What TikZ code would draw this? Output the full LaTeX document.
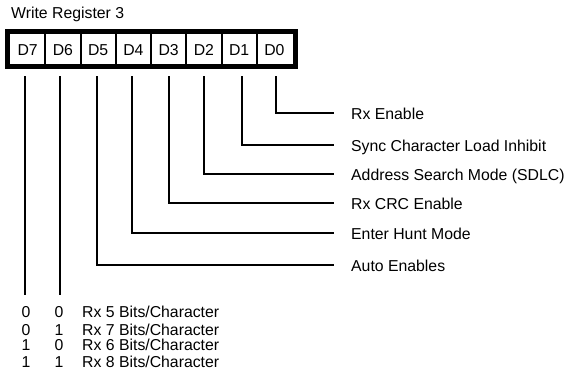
\documentclass[tikz,border=0pt]{standalone}
\usepackage{fontspec}
\setmainfont{Liberation Sans}
\begin{document}
\begin{tikzpicture}[x=1pt,y=-1pt,
  txt/.style={inner sep=0pt,font=\fontsize{15.8}{18}\selectfont},
  cell/.style={txt,anchor=center},
  lbl/.style={txt,anchor=base west},
  wire/.style={line width=2pt,line cap=rect},
  frame/.style={line width=5pt},
  divider/.style={line width=2pt}]
\useasboundingbox (0,0) rectangle (568,374);
% title
\node[txt,anchor=base west] (title) at (11,19) {Write Register 3};
% register box
\draw[frame] (7.5,31.5) rectangle (295.5,66.5);
\foreach \i/\x in {1/45.25,2/80.5,3/115.75,4/151,5/186.25,6/221.5,7/256.75}
  \draw[divider] (\x,34) -- (\x,64);
\foreach \n/\x in {7/27.6,6/62.9,5/98.1,4/133.4,3/168.6,2/203.9,1/239.1,0/274.4}
  \node[cell] (c\n) at (\x,50) {D\n};
% wire tops
\coordinate (t7) at (25,77);
\coordinate (t6) at (60,77);
\coordinate (t5) at (97,77);
\coordinate (t4) at (132,77);
\coordinate (t3) at (169,77);
\coordinate (t2) at (204,77);
\coordinate (t1) at (242,77);
\coordinate (t0) at (276,77);
% labels
\node[lbl] (l0) at (351,119.5) {Rx Enable};
\node[lbl] (l1) at (351,151.5) {Sync Character Load Inhibit};
\node[lbl] (l2) at (351,180.5) {Address Search Mode (SDLC)};
\node[lbl] (l3) at (351,209.5) {Rx CRC Enable};
\node[lbl] (l4) at (351,239.5) {Enter Hunt Mode};
\node[lbl] (l5) at (351,271.5) {Auto Enables};
% wire ends
\coordinate (e0) at (333,113);
\coordinate (e1) at (333,145);
\coordinate (e2) at (333,174);
\coordinate (e3) at (333,203);
\coordinate (e4) at (333,233);
\coordinate (e5) at (333,265);
\coordinate (b7) at (25,294);
\coordinate (b6) at (60,294);
\foreach \k in {0,...,5}
  \draw[wire] (t\k) |- (e\k);
\draw[wire] (t7) -- (b7);
\draw[wire] (t6) -- (b6);
% table
\node[txt,anchor=base] (a1) at (26,318) {0};
\node[txt,anchor=base] (b1) at (59,318) {0};
\node[lbl] (r1) at (82,318) {Rx 5 Bits/Character};
\node[txt,anchor=base] (a2) at (26,335) {0};
\node[txt,anchor=base] (b2) at (59,335) {1};
\node[lbl] (r2) at (82,335) {Rx 7 Bits/Character};
\node[txt,anchor=base] (a3) at (26,350) {1};
\node[txt,anchor=base] (b3) at (59,350) {0};
\node[lbl] (r3) at (82,350) {Rx 6 Bits/Character};
\node[txt,anchor=base] (a4) at (26,367) {1};
\node[txt,anchor=base] (b4) at (59,367) {1};
\node[lbl] (r4) at (82,367) {Rx 8 Bits/Character};
\end{tikzpicture}
\end{document}
